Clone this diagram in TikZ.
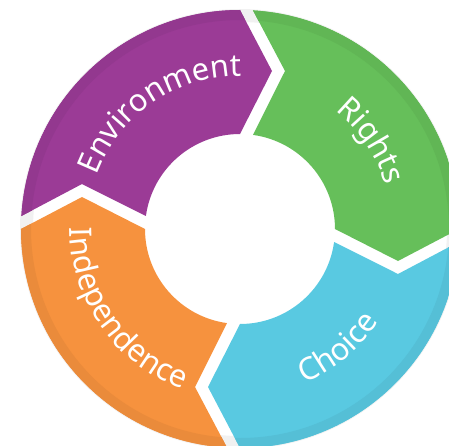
\documentclass[tikz,border=0pt]{standalone}
\usepackage{fontspec}
\usetikzlibrary{calc,decorations.text}
\newfontfamily\ringfont{Noto Sans}
\newcommand\ringtxt{\ringfont\fontsize{31pt}{37pt}\selectfont}
\definecolor{envcol}{HTML}{9B3B96}
\definecolor{rightcol}{HTML}{66BF5A}
\definecolor{choicecol}{HTML}{59C9E1}
\definecolor{indcol}{HTML}{F6923E}
\definecolor{shadowcol}{HTML}{F1F1F1}
\tikzset{
  ringseg/.style 2 args={insert path={
    (#1-3.4:219pt) arc[start angle=#1-3.4, end angle=#2, radius=219pt]
    -- ($(#2:158pt)+(#2-90:32pt)$) -- (#2:95pt)
    arc[start angle=#2, end angle=#1-7.87, radius=95pt]
    -- ($(#1:158pt)+(#1-90:45pt)$) -- cycle}},
  ringlabel/.style={decorate, decoration={text along path, text align=center,
    text color=white, text={|\ringtxt|#1}}}
}
\begin{document}
\begin{tikzpicture}
\useasboundingbox (-240pt,-216pt) rectangle (209pt,229pt);
\clip (-240pt,-216pt) rectangle (209pt,229pt);
\fill[shadowcol, even odd rule] (0,0) circle[radius=220pt] circle[radius=207pt];
\foreach \a/\b/\c in {180/90/envcol, 90/0/rightcol, 0/-90/choicecol, 270/180/indcol} {
  \fill[\c, ringseg={\a}{\b}];
  \begin{scope}
    \clip[ringseg={\a}{\b}];
    \fill[\c!95!black, even odd rule] (0,0) circle[radius=220pt] circle[radius=209pt];
  \end{scope}
}
\path[ringlabel={Environment}] (180:153pt) arc[start angle=180, end angle=69, radius=153pt];
\path[ringlabel={Rights}] (90:152pt) arc[start angle=90, end angle=-22, radius=152pt];
\path[ringlabel={Choice}] (-110:167pt) arc[start angle=-110, end angle=9, radius=167pt];
\path[ringlabel={Independence}] (160:170pt) arc[start angle=160, end angle=270, radius=170pt];
\end{tikzpicture}
\end{document}
